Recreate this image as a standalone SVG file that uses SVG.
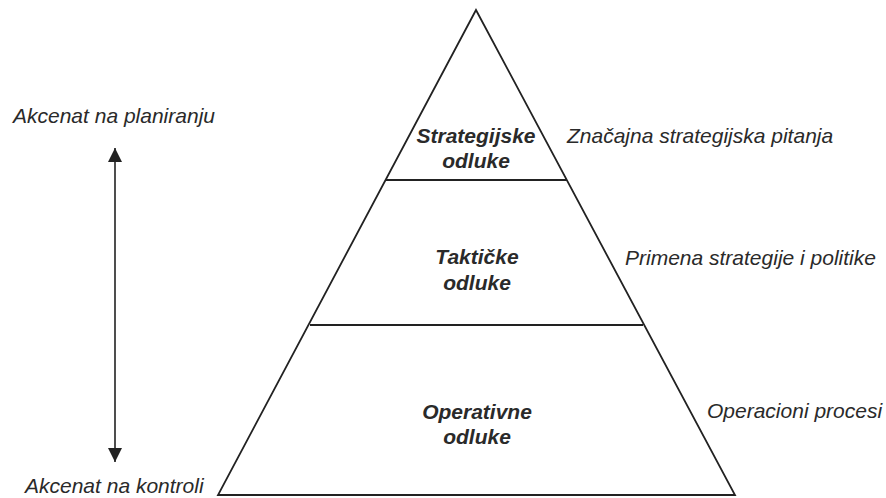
<svg xmlns="http://www.w3.org/2000/svg" width="886" height="498" viewBox="0 0 886 498">
  <style>
    .edge { fill: none; stroke: #222; stroke-width: 1.8; }
    .tier { stroke: #222; stroke-width: 1.8; }
    .lbl { font-family: "Liberation Sans", Arial, sans-serif; font-size: 21px; font-style: italic; fill: #2a2a2a; }
    .head { font-weight: bold; text-anchor: middle; }
  </style>
  <defs>
    <marker id="tip" viewBox="0 0 10 10" refX="10" refY="5" markerWidth="14" markerHeight="14" markerUnits="userSpaceOnUse" orient="auto-start-reverse">
      <path d="M0,0 L10,5 L0,10 z" fill="#222"/>
    </marker>
  </defs>

  <!-- pyramid outline and tier dividers -->
  <g id="pyramid">
    <polygon class="edge" points="476,10 735,495 218,495"/>
    <line class="tier" x1="386" y1="180" x2="567" y2="180"/>
    <line class="tier" x1="310" y1="325" x2="643" y2="325"/>
  </g>

  <g id="strategic">
    <text class="lbl head" x="476" y="143">Strategijske</text>
    <text class="lbl head" x="476" y="168">odluke</text>
  </g>
  <g id="tactical">
    <text class="lbl head" x="477" y="264">Taktičke</text>
    <text class="lbl head" x="477" y="290">odluke</text>
  </g>
  <g id="operational">
    <text class="lbl head" x="477" y="419">Operativne</text>
    <text class="lbl head" x="477" y="444">odluke</text>
  </g>

  <g id="notes">
    <text class="lbl" x="567" y="143">Značajna strategijska pitanja</text>
    <text class="lbl" x="625" y="265">Primena strategije i politike</text>
    <text class="lbl" x="707" y="418">Operacioni procesi</text>
  </g>

  <g id="focus-labels">
    <text class="lbl" x="13" y="123">Akcenat na planiranju</text>
    <text class="lbl" x="25" y="493">Akcenat na kontroli</text>
  </g>

  <!-- double-headed emphasis arrow -->
  <g id="connectors">
    <line x1="115" y1="148" x2="115" y2="462" stroke="#222" stroke-width="1.6" marker-start="url(#tip)" marker-end="url(#tip)"/>
  </g>
</svg>
